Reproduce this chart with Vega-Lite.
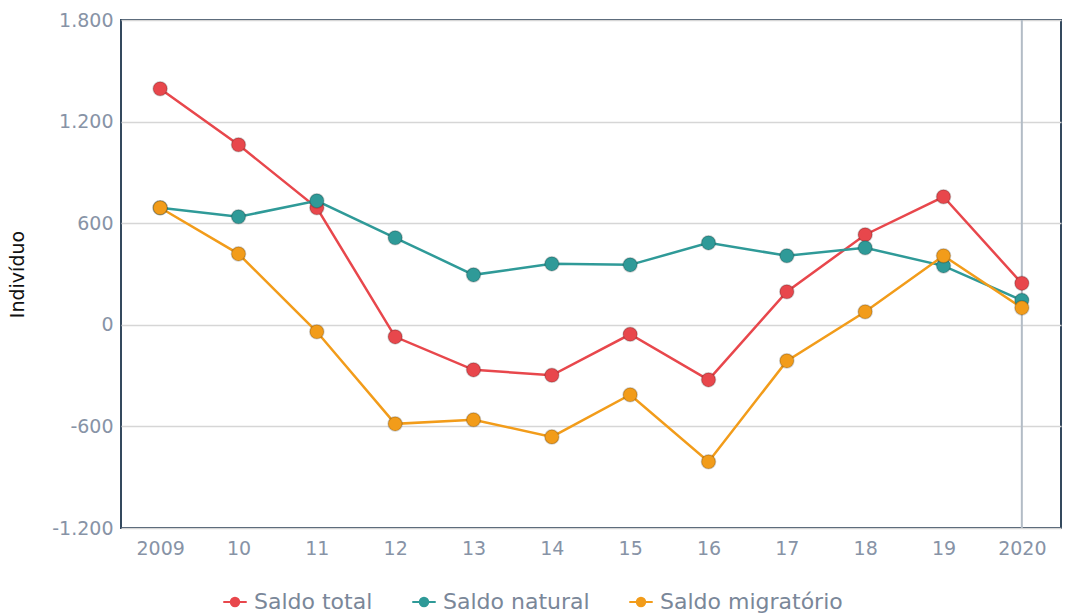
{
  "$schema": "https://vega.github.io/schema/vega-lite/v6.json",
  "autosize": {"type": "none"},
  "width": 940,
  "height": 508,
  "padding": {"left": 121, "top": 20, "right": 27, "bottom": 86},
  "background": "white",
  "config": {
    "locale": {"number": {"decimal": ",", "thousands": ".", "grouping": [3], "currency": ["€", ""], "minus": "-"}},
    "view": {"stroke": "#34495e", "strokeWidth": 2},
    "font": "DejaVu Sans"
  },
  "data": {"values": [
    {"ano": "2009", "serie": "Saldo total", "valor": 1394},
    {"ano": "10", "serie": "Saldo total", "valor": 1063},
    {"ano": "11", "serie": "Saldo total", "valor": 691},
    {"ano": "12", "serie": "Saldo total", "valor": -71},
    {"ano": "13", "serie": "Saldo total", "valor": -266},
    {"ano": "14", "serie": "Saldo total", "valor": -298},
    {"ano": "15", "serie": "Saldo total", "valor": -56},
    {"ano": "16", "serie": "Saldo total", "valor": -325},
    {"ano": "17", "serie": "Saldo total", "valor": 195},
    {"ano": "18", "serie": "Saldo total", "valor": 532},
    {"ano": "19", "serie": "Saldo total", "valor": 756},
    {"ano": "2020", "serie": "Saldo total", "valor": 245},
    {"ano": "2009", "serie": "Saldo natural", "valor": 691},
    {"ano": "10", "serie": "Saldo natural", "valor": 638},
    {"ano": "11", "serie": "Saldo natural", "valor": 732},
    {"ano": "12", "serie": "Saldo natural", "valor": 514},
    {"ano": "13", "serie": "Saldo natural", "valor": 295},
    {"ano": "14", "serie": "Saldo natural", "valor": 360},
    {"ano": "15", "serie": "Saldo natural", "valor": 354},
    {"ano": "16", "serie": "Saldo natural", "valor": 484},
    {"ano": "17", "serie": "Saldo natural", "valor": 408},
    {"ano": "18", "serie": "Saldo natural", "valor": 455},
    {"ano": "19", "serie": "Saldo natural", "valor": 348},
    {"ano": "2020", "serie": "Saldo natural", "valor": 145},
    {"ano": "2009", "serie": "Saldo migratório", "valor": 691},
    {"ano": "10", "serie": "Saldo migratório", "valor": 419},
    {"ano": "11", "serie": "Saldo migratório", "valor": -41},
    {"ano": "12", "serie": "Saldo migratório", "valor": -585},
    {"ano": "13", "serie": "Saldo migratório", "valor": -561},
    {"ano": "14", "serie": "Saldo migratório", "valor": -662},
    {"ano": "15", "serie": "Saldo migratório", "valor": -413},
    {"ano": "16", "serie": "Saldo migratório", "valor": -809},
    {"ano": "17", "serie": "Saldo migratório", "valor": -213},
    {"ano": "18", "serie": "Saldo migratório", "valor": 77},
    {"ano": "19", "serie": "Saldo migratório", "valor": 408},
    {"ano": "2020", "serie": "Saldo migratório", "valor": 100}
  ]},
  "encoding": {
    "x": {
      "field": "ano", "type": "ordinal",
      "sort": ["2009", "10", "11", "12", "13", "14", "15", "16", "17", "18", "19", "2020"],
      "scale": {"type": "point", "padding": 0.5},
      "axis": {"title": null, "domain": false, "ticks": false, "labelAngle": 0, "labelPadding": 11, "labelFontSize": 19, "labelColor": "#8793a6"}
    },
    "y": {
      "field": "valor", "type": "quantitative",
      "scale": {"domain": [-1200, 1800], "nice": false, "zero": false},
      "axis": {"title": "Indivíduo", "titleFontSize": 19, "titleFontWeight": "normal", "titleColor": "#111111", "titlePadding": 24, "values": [-1200, -600, 0, 600, 1200, 1800], "format": ",.0f", "domain": false, "ticks": false, "labelPadding": 8, "labelFontSize": 19, "labelColor": "#8793a6", "gridColor": "#d6d6d6", "gridWidth": 1.5}
    },
    "color": {
      "field": "serie", "type": "nominal",
      "scale": {"domain": ["Saldo total", "Saldo natural", "Saldo migratório"], "range": ["#e8474c", "#2f9a98", "#f29c1a"]},
      "legend": {"title": null, "orient": "none", "legendX": 101, "legendY": 569, "direction": "horizontal", "labelFontSize": 22, "labelLimit": 0, "labelColor": "#7a8799", "columnPadding": 35, "symbolType": "M-1,0H1M-0.36,0A0.36,0.36,0,1,0,0.36,0A0.36,0.36,0,1,0,-0.36,0Z", "symbolSize": 550, "symbolStrokeWidth": 2, "labelOffset": 6}
    }
  },
  "layer": [
    {
      "data": {"values": [{"ano": "2020"}]},
      "mark": {"type": "rule", "color": "#b3bcc6", "strokeWidth": 2},
      "encoding": {"x": {"field": "ano", "type": "ordinal"}, "y": null, "color": null}
    },
    {"mark": {"type": "line", "strokeWidth": 2.5}},
    {"mark": {"type": "point", "filled": true, "size": 200, "opacity": 1, "stroke": "#000000", "strokeOpacity": 0.18, "strokeWidth": 1.5}}
  ]
}
